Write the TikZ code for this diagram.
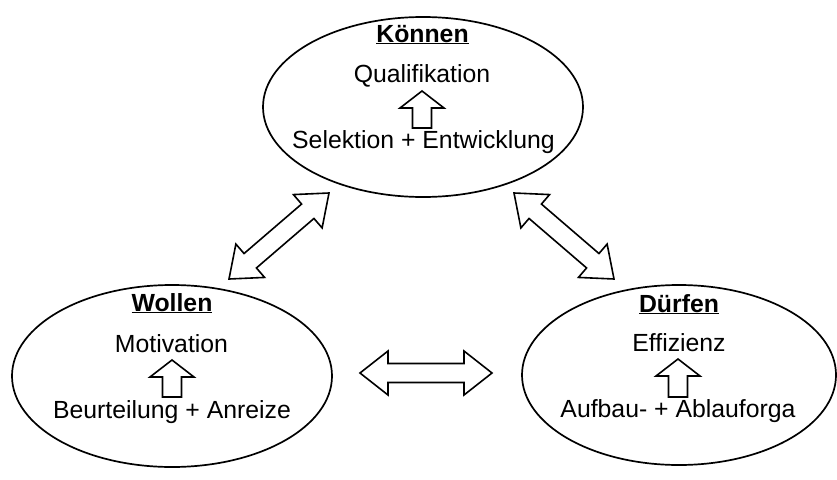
\documentclass[tikz,border=0pt]{standalone}
\usepackage{fontspec}
\setmainfont{Liberation Sans}
\usetikzlibrary{shapes.geometric,calc}
\tikzset{
  oval/.style={draw, ellipse, line width=1.7pt, inner sep=0pt},
  lbl/.style={anchor=base, inner sep=0pt, font=\fontsize{24.8}{29}\selectfont},
  ttl/.style={anchor=base, inner sep=0pt, font=\fontsize{24.8}{29}\selectfont\bfseries},
  blockarrow/.style={draw, line width=1.6pt, line join=miter, fill=white}
}
\newcommand\dblblock[2]{%
  \path ($(#1)!28pt!(#2)$) coordinate (q1) ($(#2)!28pt!(#1)$) coordinate (q2);
  \draw[blockarrow] (#1) -- ($(q1)!22pt!90:(#2)$) -- ($(q1)!9.5pt!90:(#2)$)
    -- ($(q2)!9.5pt!-90:(#1)$) -- ($(q2)!22pt!-90:(#1)$) -- (#2)
    -- ($(q2)!22pt!90:(#1)$) -- ($(q2)!9.5pt!90:(#1)$)
    -- ($(q1)!9.5pt!-90:(#2)$) -- ($(q1)!22pt!-90:(#2)$) -- cycle;}
\newcommand\upblock[2]{%
  \path ($(#2)!17pt!(#1)$) coordinate (q1);
  \draw[blockarrow] (#2) -- ($(q1)!22pt!90:(#1)$) -- ($(q1)!9.5pt!90:(#1)$)
    -- ($(#1)!9.5pt!-90:(#2)$) -- ($(#1)!9.5pt!90:(#2)$)
    -- ($(q1)!9.5pt!-90:(#1)$) -- ($(q1)!22pt!-90:(#1)$) -- cycle;}
\begin{document}
\begin{tikzpicture}[x=1pt,y=-1pt]
\useasboundingbox (0,0) rectangle (837,479);
% ellipses
\node[oval, minimum width=320pt, minimum height=180pt] (k) at (423,107) {};
\node[oval, minimum width=320pt, minimum height=182pt] (w) at (172,376) {};
\node[oval, minimum width=314pt, minimum height=180pt] (d) at (679,375) {};
% Können
\node[ttl] (kt) at (422.5,42) {\underline{Können}};
\node[lbl] (kq) at (422,82) {Qualifikation};
\node[lbl] (ks) at (423.5,148) {Selektion + Entwicklung};
\coordinate (kab) at (422,128); \coordinate (kat) at (422,91);
\upblock{kab}{kat}
% Wollen
\node[ttl] (wt) at (172,311) {\underline{Wollen}};
\node[lbl] (wm) at (171.5,352) {Motivation};
\node[lbl] (wb) at (172,418) {Beurteilung + Anreize};
\coordinate (wab) at (172,397); \coordinate (wat) at (172,360);
\upblock{wab}{wat}
% Dürfen
\node[ttl] (dt) at (679,312) {\underline{Dürfen}};
\node[lbl] (de) at (679,351) {Effizienz};
\node[lbl] (da) at (678,417) {Aufbau- + Ablauforga};
\coordinate (dab) at (678,397); \coordinate (dat) at (678,359);
\upblock{dab}{dat}
% connecting double arrows
\coordinate (kw1) at (229,279); \coordinate (kw2) at (329,193);
\coordinate (kd1) at (514,193); \coordinate (kd2) at (614,279);
\coordinate (wd1) at (360,373); \coordinate (wd2) at (492,373);
\dblblock{kw1}{kw2}
\dblblock{kd1}{kd2}
\dblblock{wd1}{wd2}
\end{tikzpicture}
\end{document}
